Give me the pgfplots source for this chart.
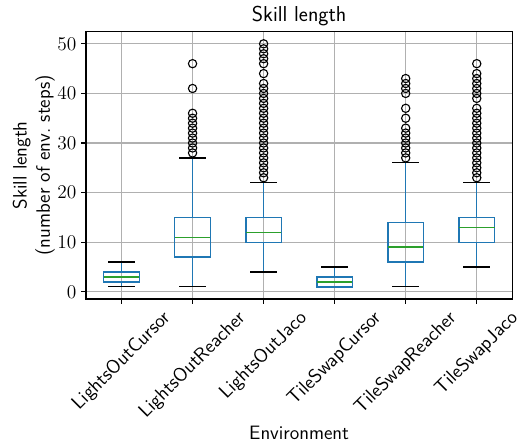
\RequirePackage{fix-cm}
\documentclass[border=0pt]{standalone}
\usepackage{fontspec}
\usepackage{graphicx}
\usepackage{pgfplots}
\pgfplotsset{compat=1.18}
\usepgfplotslibrary{statistics}
\definecolor{mpblue}{HTML}{1F77B4}
\definecolor{mpgreen}{HTML}{2CA02C}
\definecolor{gridgray}{HTML}{B0B0B0}
\newcommand{\fs}{\fontsize{14}{16.8}\selectfont}
\newcommand{\fst}{\fontsize{15.6}{18}\selectfont}
\pgfplotsset{
  boxplot/draw/lower whisker/.code={%
    \draw[/pgfplots/boxplot/every whisker/.try]
      (boxplot box cs:\pgfplotsboxplotvalue{lower whisker},0.5) --
      (boxplot box cs:\pgfplotsboxplotvalue{lower quartile},0.5);
    \draw[black, line width=0.9pt]
      (boxplot whisker cs:\pgfplotsboxplotvalue{lower whisker},0) --
      (boxplot whisker cs:\pgfplotsboxplotvalue{lower whisker},1);
  },
  boxplot/draw/upper whisker/.code={%
    \draw[/pgfplots/boxplot/every whisker/.try]
      (boxplot box cs:\pgfplotsboxplotvalue{upper whisker},0.5) --
      (boxplot box cs:\pgfplotsboxplotvalue{upper quartile},0.5);
    \draw[black, line width=0.9pt]
      (boxplot whisker cs:\pgfplotsboxplotvalue{upper whisker},0) --
      (boxplot whisker cs:\pgfplotsboxplotvalue{upper whisker},1);
  },
  mybox/.style={draw=mpblue, line width=1pt, mark=o, mark size=3pt,
    mark options={draw=black, fill=none, line width=0.8pt, solid},
    boxplot/every median/.style={draw=mpgreen, line width=1pt},
    boxplot/every box/.style={draw=mpblue, line width=1pt},
    boxplot/every whisker/.style={draw=mpblue, line width=1pt}},
}
\begin{document}
\begin{tikzpicture}
\begin{axis}[
  name=ax,
  scale only axis,
  width=308.1pt, height=193.2pt,
  xmin=0.5, xmax=6.5,
  ymin=-1.45, ymax=52.45,
  xtick={1,2,3,4,5,6},
  xticklabels={\rotatebox{45}{LightsOutCursor},\rotatebox{45}{LightsOutReacher},\rotatebox{45}{LightsOutJaco},\rotatebox{45}{TileSwapCursor},\rotatebox{45}{TileSwapReacher},\rotatebox{45}{TileSwapJaco}},
  x tick label style={font=\fs\sffamily, anchor=north, inner sep=0pt, yshift=-3.5pt},
  ytick={0,10,20,30,40,50},
  y tick label style={font=\fs},
  tick align=outside,
  tick pos=left,
  major tick length=3.5pt,
  tick style={black, line width=0.8pt},
  axis line style={black, line width=0.8pt},
  grid=major,
  major grid style={gridgray, line width=0.8pt},
  title={Skill length},
  title style={font=\fst\sffamily, at={(axis description cs:0.5,1)}, anchor=base, yshift=1.5pt},
  xlabel={Environment},
  xlabel style={font=\fs\sffamily},
  ylabel={Skill length\\(number of env.\ steps)},
  ylabel style={font=\fs\sffamily, align=center, yshift=-5pt},
  boxplot/draw direction=y,
  boxplot/box extend=0.5,
  boxplot/whisker extend=0.375,
]
\addplot[mybox, boxplot prepared={draw position=1, lower whisker=1, lower quartile=2, median=3, upper quartile=4, upper whisker=6}]
  coordinates {};
\addplot[mybox, boxplot prepared={draw position=2, lower whisker=1, lower quartile=7, median=11, upper quartile=15, upper whisker=27}]
  table[row sep=\\, y index=0] {28\\29\\30\\31\\32\\33\\34\\35\\36\\41\\46\\};
\addplot[mybox, boxplot prepared={draw position=3, lower whisker=4, lower quartile=10, median=12, upper quartile=15, upper whisker=22}]
  table[row sep=\\, y index=0] {23\\24\\25\\26\\27\\28\\29\\30\\31\\32\\33\\34\\35\\36\\37\\38\\39\\40\\41\\42\\44\\46\\47\\48\\49\\50\\};
\addplot[mybox, boxplot prepared={draw position=4, lower whisker=1, lower quartile=1, median=2, upper quartile=3, upper whisker=5}]
  coordinates {};
\addplot[mybox, boxplot prepared={draw position=5, lower whisker=1, lower quartile=6, median=9, upper quartile=14, upper whisker=26}]
  table[row sep=\\, y index=0] {27\\28\\29\\30\\31\\32\\33\\35\\37\\40\\41\\42\\43\\};
\addplot[mybox, boxplot prepared={draw position=6, lower whisker=5, lower quartile=10, median=13, upper quartile=15, upper whisker=22}]
  table[row sep=\\, y index=0] {23\\24\\25\\26\\27\\28\\29\\30\\31\\32\\33\\34\\35\\36\\37\\39\\40\\41\\42\\43\\44\\46\\};
\end{axis}
\pgfresetboundingbox
\path[use as bounding box] ([xshift=-62.15pt,yshift=-104.8pt]ax.south west) rectangle ([xshift=6.3pt,yshift=22.9pt]ax.north east);
\end{tikzpicture}
\end{document}
